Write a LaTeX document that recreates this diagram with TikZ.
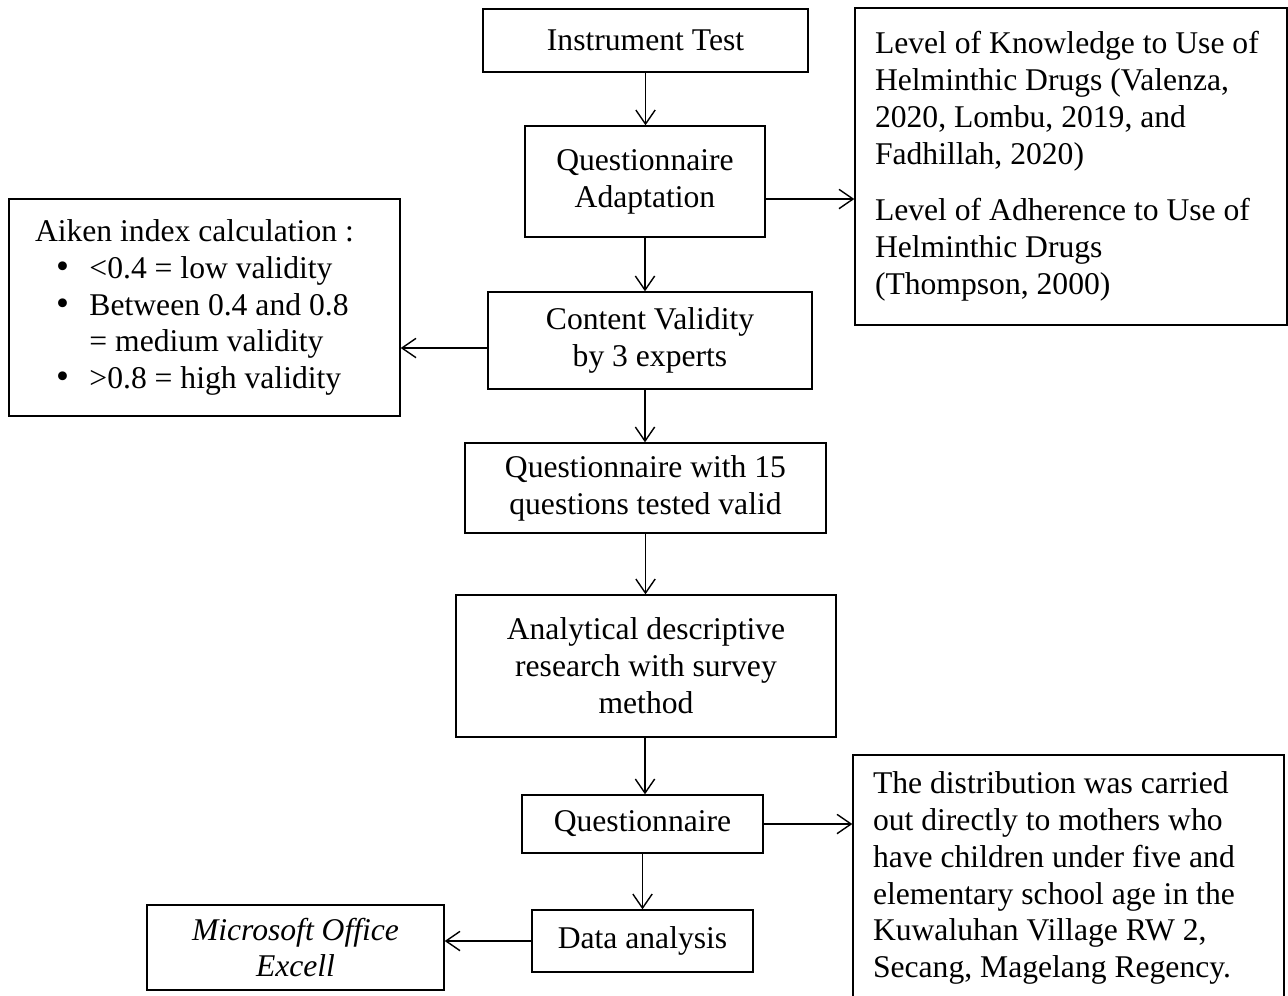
\documentclass[tikz,border=0pt]{standalone}
\usepackage{fontspec}
\setmainfont{Liberation Serif}
\usetikzlibrary{arrows.meta}
\newcommand{\bigbul}{{\fontsize{21}{21}\selectfont\textbullet}}
\begin{document}
\begin{tikzpicture}[x=0.02cm,y=-0.02cm,
  every node/.style={font=\fontsize{18}{21}\selectfont},
  box/.style={draw,line width=0.8pt,inner sep=0pt,align=center},
  lbox/.style={draw,line width=0.8pt,inner sep=0pt,align=flush left},
  arr/.style={line width=0.8pt,-{Straight Barb[length=8pt,width=11pt,line width=0.8pt]}}]
\useasboundingbox (0,0) rectangle (1288,995);
\node[box,minimum width=325*0.02cm,minimum height=63*0.02cm] (it) at (645.5,40.5) {Instrument Test};
\node[box,minimum width=240*0.02cm,minimum height=111*0.02cm] (qa) at (645,181.5) {Questionnaire\\Adaptation};
\node[box,minimum width=324*0.02cm,minimum height=97*0.02cm] (cv) at (650,340.5) {Content Validity\\by 3 experts};
\node[box,minimum width=361*0.02cm,minimum height=90*0.02cm] (q15) at (645.5,488) {Questionnaire with 15\\questions tested valid};
\node[box,minimum width=380*0.02cm,minimum height=142*0.02cm] (an) at (646,666) {Analytical descriptive\\research with survey\\method};
\node[box,minimum width=241*0.02cm,minimum height=58*0.02cm] (qq) at (642.5,824) {Questionnaire};
\node[box,minimum width=221*0.02cm,minimum height=62*0.02cm] (da) at (642.5,941) {Data analysis};
\node[box,minimum width=297*0.02cm,minimum height=85*0.02cm,font=\fontsize{18}{21}\selectfont\itshape] (ms) at (295.5,947.5) {Microsoft Office\\Excell};
\node[lbox,minimum width=432*0.02cm,minimum height=317*0.02cm,text width=392*0.02cm] (lk) at (1071,166.5)
 {Level of Knowledge to Use of\\Helminthic Drugs (Valenza,\\2020, Lombu, 2019, and\\Fadhillah, 2020)\\[11pt]Level of Adherence to Use of\\Helminthic Drugs\\(Thompson, 2000)};
\node[lbox,minimum width=391*0.02cm,minimum height=217*0.02cm,text width=339*0.02cm] (ai) at (204.5,307.5)
 {Aiken index calculation :\\
  \hspace*{12pt}\makebox[19pt][l]{\bigbul}<0.4 = low validity\\
  \hspace*{12pt}\makebox[19pt][l]{\bigbul}Between 0.4 and 0.8\\
  \hspace*{31pt}= medium validity\\
  \hspace*{12pt}\makebox[19pt][l]{\bigbul}>0.8 = high validity};
\node[lbox,minimum width=431*0.02cm,minimum height=246*0.02cm,text width=391*0.02cm] (di) at (1068.5,878)
 {The distribution was carried\\out directly to mothers who\\have children under five and\\elementary school age in the\\Kuwaluhan Village RW 2,\\Secang, Magelang Regency.};
\draw[arr] (it.south) -- (it.south |- qa.north);
\draw[arr] (qa.south) -- (qa.south |- cv.north);
\draw[arr] (qa.south |- cv.south) -- (qa.south |- q15.north);
\draw[arr] (q15.south) -- (q15.south |- an.north);
\draw[arr] (qa.south |- an.south) -- (qa.south |- qq.north);
\draw[arr] (qq.south) -- (qq.south |- da.north);
\draw[arr] (qa.east |- 0,199) -- (lk.west |- 0,199);
\draw[arr] (cv.west |- 0,348) -- (ai.east |- 0,348);
\draw[arr] (qq.east) -- (di.west |- qq.east);
\draw[arr] (da.west) -- (ms.east |- da.west);
\end{tikzpicture}
\end{document}
